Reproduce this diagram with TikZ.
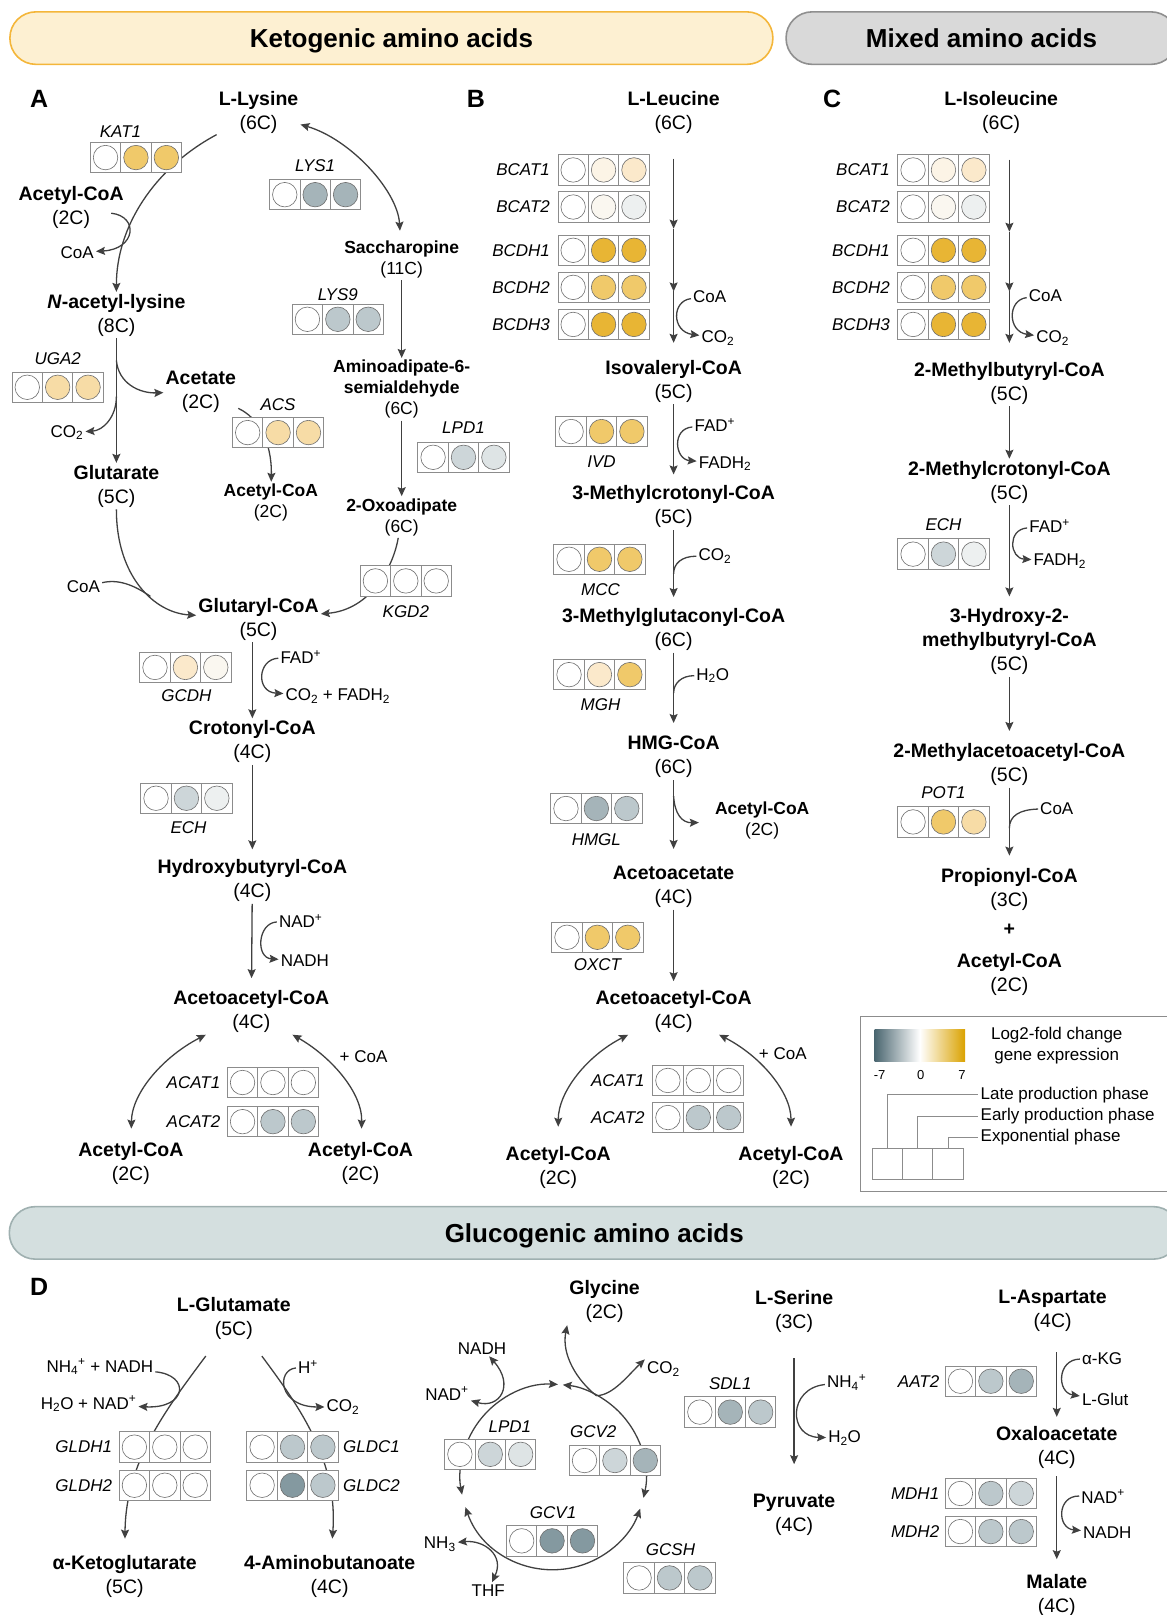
\documentclass[tikz,border=0pt]{standalone}
\usepackage{fontspec}
\setmainfont{Liberation Sans}
\usetikzlibrary{arrows.meta,positioning}

\definecolor{ketofill}{HTML}{FDF0D2}
\definecolor{ketoline}{HTML}{F4B63A}
\definecolor{mixfill}{HTML}{D9D9D9}
\definecolor{mixline}{HTML}{8F8F8F}
\definecolor{glucofill}{HTML}{D4DFDF}
\definecolor{glucoline}{HTML}{9FB0B0}
\definecolor{arrowgray}{HTML}{404040}
\definecolor{cellline}{HTML}{8C8C8C}
\definecolor{dotline}{HTML}{6E6E6E}
\definecolor{leggray}{HTML}{8C8C8C}
\definecolor{gold4}{HTML}{E8B534}
\definecolor{gold3}{HTML}{F0C96A}
\definecolor{gold2}{HTML}{F7DCA6}
\definecolor{gold1}{HTML}{FBE9CB}
\definecolor{cream1}{HTML}{FCF4E6}
\definecolor{cream0}{HTML}{FAF7F0}
\definecolor{slate0}{HTML}{EDF0F0}
\definecolor{slate1}{HTML}{DEE4E5}
\definecolor{slate2}{HTML}{CDD6D9}
\definecolor{slate3}{HTML}{BCC8CC}
\definecolor{slate4}{HTML}{A5B4B9}
\definecolor{slate5}{HTML}{8499A0}
\definecolor{lfclow}{HTML}{4A6670}
\definecolor{lfchigh}{HTML}{DAA200}

\newcommand{\csub}[1]{\textsubscript{#1}}
\newcommand{\csup}[1]{\textsuperscript{#1}}
% three cells with a coloured dot each: name, centre, colours
\newcommand{\genebox}[5]{%
  \node[cell] (#1-b) at #2 {};
  \node[cell, left=0pt of #1-b] (#1-a) {};
  \node[cell, right=0pt of #1-b] (#1-c) {};
  \node[exprdot, fill=#3] (#1-a-dot) at (#1-a) {};
  \node[exprdot, fill=#4] (#1-b-dot) at (#1-b) {};
  \node[exprdot, fill=#5] (#1-c-dot) at (#1-c) {};
}

\begin{document}
\begin{tikzpicture}[x=1.03pt, y=-1.03pt,
  >={Stealth[length=9pt,width=8pt,inset=1.5pt]},
  met/.style={align=center, font=\fontsize{19.5}{24}\selectfont, inner sep=2pt},
  smet/.style={align=center, font=\fontsize{17.5}{21}\selectfont, inner sep=2pt},
  cofac/.style={font=\fontsize{17}{20}\selectfont, inner sep=2pt},
  gene/.style={font=\fontsize{17}{20}\selectfont\itshape, inner sep=2pt},
  cell/.style={draw=cellline, line width=0.9pt, fill=white, minimum size=30.4pt, inner sep=0pt, outer sep=0pt},
  exprdot/.style={circle, draw=dotline, line width=0.6pt, minimum size=24.5pt, inner sep=0pt},
  rxn/.style={draw=arrowgray, line width=1.3pt, ->},
  rxn2/.style={draw=arrowgray, line width=1.3pt, <->},
  link/.style={draw=arrowgray, line width=1.3pt},
  hdr/.style={font=\fontsize{26}{30}\selectfont\bfseries, line width=1.6pt, rounded corners=26pt,
    minimum height=52.5pt, text height=19pt, text depth=0pt},
  panel/.style={font=\fontsize{25}{30}\selectfont\bfseries, inner sep=0pt},
  legline/.style={draw=leggray, line width=0.9pt}]
\useasboundingbox (0, 0) rectangle (1133, 1568);

% headers
\node[hdr, draw=ketoline, fill=ketofill, minimum width=763pt] (keto) at (380, 37) {Ketogenic amino acids};
\node[hdr, draw=mixline, fill=mixfill, minimum width=391pt] (mixed) at (953, 37) {Mixed amino acids};
\node[hdr, draw=glucoline, fill=glucofill, minimum width=1170pt] (gluco) at (577, 1197) {Glucogenic amino acids};
\node[panel] (pA) at (38, 96) {A};
\node[panel] (pB) at (462, 96) {B};
\node[panel] (pC) at (808, 96) {C};
\node[panel] (pD) at (38, 1249) {D};

% A: lysine
\node[met] (lys) at (251, 109) {\textbf{L-Lysine}\\(6C)};
\node[met] (acoa1) at (69, 201) {\textbf{Acetyl-CoA}\\(2C)};
\node[cofac] (coa1) at (75, 245) {CoA};
\node[met] (nal) at (113, 306) {\textbf{\textit{N}-acetyl-lysine}\\(8C)};
\node[met] (acet) at (195, 380) {\textbf{Acetate}\\(2C)};
\node[cofac] (co2a) at (65, 420) {CO\csub{2}};
\node[met] (glut) at (113, 472) {\textbf{Glutarate}\\(5C)};
\node[smet] (acoa2) at (263, 488) {\textbf{Acetyl-CoA}\\(2C)};
\node[smet] (sacch) at (390, 252) {\textbf{Saccharopine}\\(11C)};
\node[smet] (aas) at (390, 378) {\textbf{Aminoadipate-6-}\\\textbf{semialdehyde}\\(6C)};
\node[smet] (oxo) at (390, 502) {\textbf{2-Oxoadipate}\\(6C)};
\node[cofac] (coa2) at (81, 570) {CoA};
\node[met] (glcoa) at (251, 601) {\textbf{Glutaryl-CoA}\\(5C)};
\node[cofac] (fad1) at (292, 638) {FAD\csup{+}};
\node[cofac] (co2fadh) at (328, 676) {CO\csub{2} + FADH\csub{2}};
\node[met] (crot) at (245, 720) {\textbf{Crotonyl-CoA}\\(4C)};
\node[met] (hbut) at (245, 855) {\textbf{Hydroxybutyryl-CoA}\\(4C)};
\node[cofac] (nad1) at (292, 894) {NAD\csup{+}};
\node[cofac] (nadh1) at (296, 933) {NADH};
\node[met] (aacoa) at (244, 982) {\textbf{Acetoacetyl-CoA}\\(4C)};
\node[cofac] (plcoa1) at (353, 1026) {+ CoA};
\node[met] (acoa3) at (127, 1130) {\textbf{Acetyl-CoA}\\(2C)};
\node[met] (acoa4) at (350, 1130) {\textbf{Acetyl-CoA}\\(2C)};
\coordinate (kat1-in) at (108, 207);
\coordinate (uga2-in) at (113, 350);
\coordinate (uga2-out) at (113, 385);
\coordinate (coa2-in) at (146, 579);

\draw[rxn] (lys) .. controls (150, 163) and (113, 220) .. (nal);
\draw[rxn] (kat1-in) .. controls (135, 210) and (132, 242) .. (coa1);
\path (nal) edge[rxn] (glut);
\draw[rxn] (uga2-in) .. controls (115, 372) and (135, 382) .. (acet);
\draw[rxn] (uga2-out) .. controls (113, 405) and (100, 418) .. (co2a);
\draw[rxn] (acet) .. controls (250, 405) and (264, 428) .. (acoa2);
\draw[rxn] (glut) .. controls (113, 560) and (150, 595) .. (glcoa);
\draw[link] (coa2) .. controls (115, 562) and (130, 568) .. (coa2-in);
\draw[rxn2, shorten >=8pt] (lys) .. controls (340, 135) and (386, 185) .. (sacch);
\path (sacch) edge[rxn] (aas);
\path (aas) edge[rxn] (oxo);
\draw[rxn] (oxo) .. controls (382, 550) and (360, 592) .. (glcoa);
\path (glcoa.south -| crot) edge[rxn] (crot);
\draw[rxn] (fad1) .. controls (250, 640) and (248, 672) .. (co2fadh);
\path (crot) edge[rxn, shorten >=8pt] (hbut);
\path (hbut) edge[rxn, shorten >=10pt] (aacoa);
\draw[rxn] (nad1) .. controls (250, 896) and (248, 930) .. (nadh1);
\draw[rxn2, shorten >=12pt] (aacoa) .. controls (160, 1025) and (128, 1060) .. (acoa3);
\draw[rxn2, shorten >=12pt] (aacoa) .. controls (320, 1025) and (352, 1060) .. (acoa4);

\node[gene] (kat1-l) at (117, 128) {KAT1};
\genebox{kat1}{(132, 153)}{white}{gold3}{gold3}
\node[gene] (lys1-l) at (306, 161) {LYS1};
\genebox{lys1}{(306, 189)}{white}{slate4}{slate4}
\node[gene] (lys9-l) at (328, 286) {LYS9};
\genebox{lys9}{(328, 310)}{white}{slate3}{slate3}
\node[gene] (uga2-l) at (56, 348) {UGA2};
\genebox{uga2}{(56, 376)}{white}{gold2}{gold2}
\node[gene] (acs-l) at (270, 393) {ACS};
\genebox{acs}{(270, 420)}{white}{gold2}{gold2}
\node[gene] (lpd1a-l) at (450, 415) {LPD1};
\genebox{lpd1a}{(450, 444)}{white}{slate2}{slate1}
\genebox{kgd2}{(394, 564)}{white}{white}{white}
\node[gene] (kgd2-l) at (394, 594) {KGD2};
\genebox{gcdh}{(180, 648)}{white}{gold1}{cream0}
\node[gene] (gcdh-l) at (181, 675) {GCDH};
\genebox{echa}{(181, 775)}{white}{slate2}{slate0}
\node[gene] (echa-l) at (183, 804) {ECH};
\node[gene, anchor=east] (acat1a-l) at (216, 1051) {ACAT1};
\genebox{acat1a}{(265, 1051)}{white}{white}{white}
\node[gene, anchor=east] (acat2a-l) at (216, 1089) {ACAT2};
\genebox{acat2a}{(265, 1089)}{white}{slate3}{slate3}

% B: leucine
\node[met] (leu) at (654, 109) {\textbf{L-Leucine}\\(6C)};
\coordinate (leu-m1) at (654, 222);
\coordinate (leu-m2) at (654, 283);
\node[cofac] (coaB) at (689, 288) {CoA};
\node[cofac] (co2B) at (697, 328) {CO\csub{2}};
\node[met] (ival) at (654, 370) {\textbf{Isovaleryl-CoA}\\(5C)};
\node[cofac] (fadB) at (694, 413) {FAD\csup{+}};
\node[cofac] (fadhB) at (704, 450) {FADH\csub{2}};
\node[met] (mcrot) at (654, 492) {\textbf{3-Methylcrotonyl-CoA}\\(5C)};
\node[cofac] (co2B2) at (694, 540) {CO\csub{2}};
\coordinate (mcc-in) at (654, 557);
\node[met] (mglut) at (654, 611) {\textbf{3-Methylglutaconyl-CoA}\\(6C)};
\node[cofac] (h2oB) at (692, 656) {H\csub{2}O};
\coordinate (mgh-in) at (654, 673);
\node[met] (hmg) at (654, 735) {\textbf{HMG-CoA}\\(6C)};
\coordinate (hmgl-out) at (654, 773);
\node[smet] (acoaB) at (740, 797) {\textbf{Acetyl-CoA}\\(2C)};
\node[met] (aceac) at (654, 861) {\textbf{Acetoacetate}\\(4C)};
\node[met] (aacoaB) at (654, 982) {\textbf{Acetoacetyl-CoA}\\(4C)};
\node[cofac] (plcoaB) at (760, 1023) {+ CoA};
\node[met] (acoaB1) at (542, 1133) {\textbf{Acetyl-CoA}\\(2C)};
\node[met] (acoaB2) at (768, 1133) {\textbf{Acetyl-CoA}\\(2C)};

\path (leu) edge[rxn, shorten <=23pt] (leu-m1);
\path (leu-m1) edge[rxn] (leu-m2);
\path (leu-m2) edge[rxn, shorten >=15pt] (ival);
\draw[rxn] (coaB) .. controls (652, 292) and (652, 322) .. (co2B);
\path (ival) edge[rxn, shorten >=9pt] (mcrot);
\draw[rxn] (fadB) .. controls (652, 416) and (655, 446) .. (fadhB);
\path (mcrot) edge[rxn, shorten >=9pt] (mglut);
\draw[link] (co2B2) .. controls (662, 540) and (654, 547) .. (mcc-in);
\path (mglut) edge[rxn, shorten >=11pt] (hmg);
\draw[link] (h2oB) .. controls (662, 656) and (654, 663) .. (mgh-in);
\path (hmg) edge[rxn, shorten >=15pt] (aceac);
\draw[rxn, shorten >=14pt] (hmgl-out) .. controls (655, 790) and (662, 799) .. (acoaB);
\path (aceac) edge[rxn, shorten >=7pt] (aacoaB);
\draw[rxn2, shorten >=17pt] (aacoaB) .. controls (570, 1025) and (542, 1060) .. (acoaB1);
\draw[rxn2, shorten >=17pt] (aacoaB) .. controls (738, 1025) and (768, 1060) .. (acoaB2);

\node[gene, anchor=east] (bcat1B-l) at (536, 165) {BCAT1};
\genebox{bcat1B}{(586, 165)}{white}{cream1}{gold1}
\node[gene, anchor=east] (bcat2B-l) at (536, 201) {BCAT2};
\genebox{bcat2B}{(586, 201)}{white}{cream0}{slate0}
\node[gene, anchor=east] (bcdh1B-l) at (536, 243) {BCDH1};
\genebox{bcdh1B}{(586, 243)}{white}{gold4}{gold4}
\node[gene, anchor=east] (bcdh2B-l) at (536, 279) {BCDH2};
\genebox{bcdh2B}{(586, 279)}{white}{gold3}{gold3}
\node[gene, anchor=east] (bcdh3B-l) at (536, 315) {BCDH3};
\genebox{bcdh3B}{(586, 315)}{white}{gold4}{gold4}
\genebox{ivd}{(584, 419)}{white}{gold3}{gold3}
\node[gene] (ivd-l) at (584, 448) {IVD};
\genebox{mcc}{(582, 543)}{white}{gold3}{gold3}
\node[gene] (mcc-l) at (583, 572) {MCC};
\genebox{mgh}{(582, 655)}{white}{gold1}{gold3}
\node[gene] (mgh-l) at (583, 684) {MGH};
\genebox{hmgl}{(579, 785)}{white}{slate4}{slate3}
\node[gene] (hmgl-l) at (579, 815) {HMGL};
\genebox{oxct}{(580, 910)}{white}{gold3}{gold3}
\node[gene] (oxct-l) at (580, 937) {OXCT};
\node[gene, anchor=east] (acat1B-l) at (628, 1049) {ACAT1};
\genebox{acat1B}{(678, 1049)}{white}{white}{white}
\node[gene, anchor=east] (acat2B-l) at (628, 1085) {ACAT2};
\genebox{acat2B}{(678, 1085)}{white}{slate3}{slate3}

% C: isoleucine
\node[met] (ile) at (972, 109) {\textbf{L-Isoleucine}\\(6C)};
\coordinate (ile-m1) at (980, 225);
\coordinate (ile-m2) at (980, 283);
\node[cofac] (coaC) at (1015, 287) {CoA};
\node[cofac] (co2C) at (1022, 328) {CO\csub{2}};
\node[met] (mbut) at (980, 372) {\textbf{2-Methylbutyryl-CoA}\\(5C)};
\node[met] (mcrotC) at (980, 468) {\textbf{2-Methylcrotonyl-CoA}\\(5C)};
\node[cofac] (fadC) at (1019, 511) {FAD\csup{+}};
\node[cofac] (fadhC) at (1029, 545) {FADH\csub{2}};
\node[met] (hmb) at (980, 623) {\textbf{3-Hydroxy-2-}\\\textbf{methylbutyryl-CoA}\\(5C)};
\node[met] (maa) at (980, 742) {\textbf{2-Methylacetoacetyl-CoA}\\(5C)};
\node[cofac] (coaC2) at (1026, 785) {CoA};
\coordinate (pot1-in) at (980, 804);
\node[met] (prop) at (980, 864) {\textbf{Propionyl-CoA}\\(3C)};
\node[met] (plusC) at (980, 903) {\textbf{+}};
\node[met] (acoaC) at (980, 946) {\textbf{Acetyl-CoA}\\(2C)};

\path (ile.south -| ile-m1) edge[rxn, shorten <=24pt] (ile-m1);
\path (ile-m1) edge[rxn] (ile-m2);
\path (ile-m2) edge[rxn, shorten >=17pt] (mbut);
\draw[rxn] (coaC) .. controls (978, 291) and (978, 322) .. (co2C);
\path (mbut) edge[rxn] (mcrotC);
\path (mcrotC) edge[rxn, shorten >=10pt] (hmb);
\draw[rxn] (fadC) .. controls (978, 514) and (980, 542) .. (fadhC);
\path (hmb) edge[rxn, shorten >=10pt] (maa);
\path (maa) edge[rxn, shorten >=11pt] (prop);
\draw[link] (coaC2) .. controls (990, 786) and (980, 792) .. (pot1-in);

\node[gene, anchor=east] (bcat1C-l) at (866, 165) {BCAT1};
\genebox{bcat1C}{(916, 165)}{white}{cream1}{gold1}
\node[gene, anchor=east] (bcat2C-l) at (866, 201) {BCAT2};
\genebox{bcat2C}{(916, 201)}{white}{cream0}{slate0}
\node[gene, anchor=east] (bcdh1C-l) at (866, 243) {BCDH1};
\genebox{bcdh1C}{(916, 243)}{white}{gold4}{gold4}
\node[gene, anchor=east] (bcdh2C-l) at (866, 279) {BCDH2};
\genebox{bcdh2C}{(916, 279)}{white}{gold3}{gold3}
\node[gene, anchor=east] (bcdh3C-l) at (866, 315) {BCDH3};
\genebox{bcdh3C}{(916, 315)}{white}{gold4}{gold4}
\node[gene] (echC-l) at (916, 509) {ECH};
\genebox{echC}{(916, 538)}{white}{slate2}{slate0}
\node[gene] (pot1-l) at (916, 770) {POT1};
\genebox{pot1}{(916, 798)}{white}{gold3}{gold2}

% legend
\node[draw=leggray, line width=0.9pt, minimum width=318pt, minimum height=175pt] (legend) at (990, 1072) {};
\node[minimum width=90.5pt, minimum height=32pt, left color=lfclow, right color=lfchigh, middle color=white] (lfcbar) at (893, 1015) {};
\node[font=\fontsize{13}{15}\selectfont] (lfc-lo) at (854, 1044) {-7};
\node[font=\fontsize{13}{15}\selectfont] (lfc-mid) at (894, 1044) {0};
\node[font=\fontsize{13}{15}\selectfont] (lfc-hi) at (934, 1044) {7};
\node[cofac, align=center, font=\fontsize{17}{20.5}\selectfont] (lfc-t) at (1026, 1015) {Log2-fold change\\gene expression};
\node[cofac, anchor=west] (ph-late) at (950, 1063) {Late production phase};
\node[cofac, anchor=west] (ph-early) at (950, 1084) {Early production phase};
\node[cofac, anchor=west] (ph-exp) at (950, 1104) {Exponential phase};
\node[cell] (legc-b) at (891, 1130) {};
\node[cell, left=0pt of legc-b] (legc-a) {};
\node[cell, right=0pt of legc-b] (legc-c) {};
\draw[legline] (legc-a.north) |- (ph-late.west);
\draw[legline] (legc-b.north) |- (ph-early.west);
\draw[legline] (legc-c.north) |- (ph-exp.west);

% D: glutamate
\node[met] (glu) at (227, 1280) {\textbf{L-Glutamate}\\(5C)};
\node[cofac] (nh4) at (97, 1327) {NH\csub{4}\csup{+} + NADH};
\node[cofac] (h2onad) at (86, 1363) {H\csub{2}O + NAD\csup{+}};
\node[cofac] (hplus) at (299, 1327) {H\csup{+}};
\node[cofac] (co2D) at (333, 1366) {CO\csub{2}};
\node[met] (akg) at (121, 1531) {\textbf{α-Ketoglutarate}\\(5C)};
\node[met] (gaba) at (320, 1531) {\textbf{4-Aminobutanoate}\\(4C)};

\draw[rxn, shorten <=18pt, shorten >=15pt] (glu) .. controls (160, 1370) and (122, 1420) .. (akg);
\draw[rxn, shorten <=18pt, shorten >=15pt] (glu) .. controls (294, 1370) and (328, 1420) .. (gaba);
\draw[rxn] (nh4) .. controls (185, 1335) and (182, 1368) .. (h2onad);
\draw[rxn] (hplus) .. controls (268, 1330) and (270, 1366) .. (co2D);

\node[gene, anchor=east] (gldh1-l) at (111, 1405) {GLDH1};
\genebox{gldh1}{(160, 1405)}{white}{white}{white}
\node[gene, anchor=east] (gldh2-l) at (111, 1442) {GLDH2};
\genebox{gldh2}{(160, 1442)}{white}{white}{white}
\genebox{gldc1}{(284, 1405)}{white}{slate3}{slate3}
\node[gene, anchor=west] (gldc1-l) at (331, 1405) {GLDC1};
\genebox{gldc2}{(284, 1442)}{white}{slate5}{slate3}
\node[gene, anchor=west] (gldc2-l) at (331, 1442) {GLDC2};

% D: glycine cleavage cycle
\node[met] (gly) at (587, 1264) {\textbf{Glycine}\\(2C)};
\coordinate (gcv) at (537, 1434);
\coordinate (gcv-j) at (579, 1355);
\node[cofac] (co2G) at (644, 1329) {CO\csub{2}};
\node[cofac] (nadhG) at (468, 1309) {NADH};
\node[cofac] (nadG) at (434, 1353) {NAD\csup{+}};
\node[cofac] (nh3G) at (427, 1499) {NH\csub{3}};
\node[cofac] (thfG) at (474, 1544) {THF};

\draw[rxn2] (gcv) ++(-87:90) arc[start angle=-87, end angle=-191, radius=90];
\draw[rxn2] (gcv) ++(-199:90) arc[start angle=-199, end angle=-340, radius=90];
\draw[rxn2] (gcv) ++(-347:90) arc[start angle=-347, end angle=-444, radius=90];
\draw[rxn] (gcv-j) .. controls (560, 1340) and (545, 1315) .. (gly.south west);
\draw[rxn] (gcv-j) .. controls (595, 1355) and (610, 1335) .. (co2G.north west);
\draw[rxn2] (nadhG) .. controls (500, 1345) and (485, 1368) .. (nadG);
\draw[rxn2] (nh3G) .. controls (470, 1495) and (490, 1510) .. (thfG);

\node[gene] (lpd1d-l) at (495, 1385) {LPD1};
\genebox{lpd1d}{(476, 1412)}{white}{slate2}{slate1}
\node[gene] (gcv2-l) at (576, 1390) {GCV2};
\genebox{gcv2}{(597, 1418)}{white}{slate2}{slate4}
\node[gene] (gcv1-l) at (537, 1469) {GCV1};
\genebox{gcv1}{(536, 1496)}{white}{slate5}{slate5}
\node[gene] (gcsh-l) at (651, 1505) {GCSH};
\genebox{gcsh}{(650, 1532)}{white}{slate3}{slate3}

% D: serine
\node[met] (ser) at (771, 1273) {\textbf{L-Serine}\\(3C)};
\node[met] (pyr) at (771, 1471) {\textbf{Pyruvate}\\(4C)};
\node[cofac] (nh4S) at (822, 1342) {NH\csub{4}\csup{+}};
\node[cofac] (h2oS) at (820, 1396) {H\csub{2}O};
\path (ser) edge[rxn, shorten <=24pt, shorten >=28pt] (pyr);
\draw[rxn] (nh4S) .. controls (765, 1348) and (765, 1395) .. (h2oS);
\node[gene] (sdl1-l) at (709, 1343) {SDL1};
\genebox{sdl1}{(709, 1371)}{white}{slate4}{slate3}

% D: aspartate
\node[met] (asp) at (1022, 1273) {\textbf{L-Aspartate}\\(4C)};
\node[met] (oxa) at (1026, 1405) {\textbf{Oxaloacetate}\\(4C)};
\node[met] (mal) at (1026, 1549) {\textbf{Malate}\\(4C)};
\node[cofac] (akgD) at (1070, 1319) {α-KG};
\node[cofac] (lglu) at (1073, 1359) {L-Glut};
\node[cofac] (nadD) at (1071, 1453) {NAD\csup{+}};
\node[cofac] (nadhD) at (1075, 1488) {NADH};
\path (asp.south -| oxa) edge[rxn, shorten <=18pt, shorten >=7pt] (oxa);
\path (oxa) edge[rxn, shorten <=6pt, shorten >=13pt] (mal);
\draw[rxn] (akgD) .. controls (1026, 1320) and (1026, 1352) .. (lglu);
\draw[rxn] (nadD) .. controls (1026, 1452) and (1026, 1484) .. (nadhD);
\node[gene, anchor=east] (aat2-l) at (914, 1341) {AAT2};
\genebox{aat2}{(962, 1341)}{white}{slate3}{slate4}
\node[gene, anchor=east] (mdh1-l) at (914, 1450) {MDH1};
\genebox{mdh1}{(962, 1450)}{white}{slate3}{slate2}
\node[gene, anchor=east] (mdh2-l) at (914, 1487) {MDH2};
\genebox{mdh2}{(962, 1487)}{white}{slate3}{slate3}
\end{tikzpicture}
\end{document}
